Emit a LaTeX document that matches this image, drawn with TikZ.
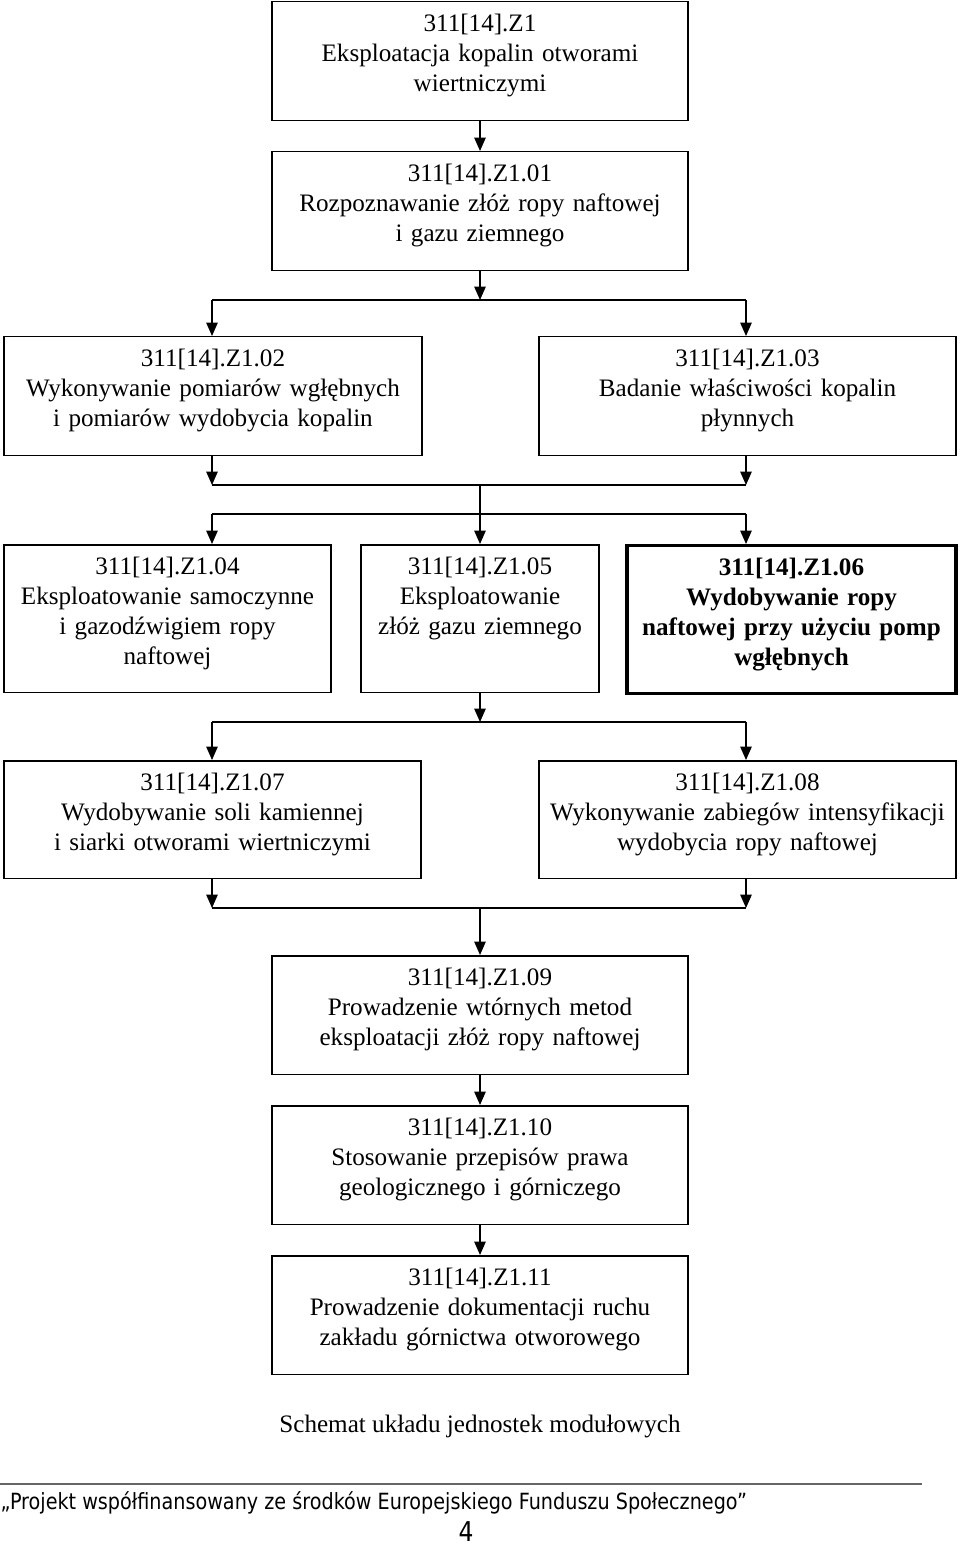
\documentclass[tikz,border=0pt]{standalone}
\usepackage{fontspec}
\setmainfont{Liberation Serif}
\newfontfamily\footfont[FakeStretch=0.86]{DejaVu Sans}
\usepackage{tikz}
\usetikzlibrary{arrows.meta}

\begin{document}
\begin{tikzpicture}[x=0.02cm, y=-0.02cm,
	>={Triangle[length=0.27cm, width=0.23cm]},
	line width=0.85pt,
	modbox/.style={draw, line width=0.85pt, inner sep=0pt, align=center, anchor=north,
		text height=0.6cm, font=\fontsize{14.3}{17}\selectfont},
	thickbox/.style={modbox, line width=1.8pt, font=\fontsize{14.3}{17}\selectfont\bfseries}]
	\useasboundingbox (0,0) rectangle (960,1545);

	% Module boxes
	\node[modbox, text width=8.32cm, text depth=1.78cm] (z1) at (480,1)
		{311[14].Z1\\Eksploatacja kopalin otworami\\wiertniczymi};
	\node[modbox, text width=8.32cm, text depth=1.78cm] (z101) at (480,151)
		{311[14].Z1.01\\Rozpoznawanie złóż ropy naftowej\\i gazu ziemnego};
	\node[modbox, text width=8.36cm, text depth=1.78cm] (z102) at (213,336)
		{311[14].Z1.02\\Wykonywanie pomiarów wgłębnych\\i pomiarów wydobycia kopalin};
	\node[modbox, text width=8.34cm, text depth=1.78cm] (z103) at (747.5,336)
		{311[14].Z1.03\\Badanie właściwości kopalin\\płynnych};
	\node[modbox, text width=6.54cm, text depth=2.36cm] (z104) at (167.5,544)
		{311[14].Z1.04\\Eksploatowanie samoczynne\\i gazodźwigiem ropy\\naftowej};
	\node[modbox, text width=4.76cm, text depth=2.36cm] (z105) at (480,544)
		{311[14].Z1.05\\Eksploatowanie\\złóż gazu ziemnego};
	\node[thickbox, text width=6.58cm, text depth=2.36cm] (z106) at (791.5,544)
		{311[14].Z1.06\\Wydobywanie ropy\\naftowej przy użyciu pomp\\wgłębnych};
	\node[modbox, text width=8.34cm, text depth=1.76cm] (z107) at (212.5,760)
		{311[14].Z1.07\\Wydobywanie soli kamiennej\\i siarki otworami wiertniczymi};
	\node[modbox, text width=8.34cm, text depth=1.76cm] (z108) at (747.5,760)
		{311[14].Z1.08\\Wykonywanie zabiegów intensyfikacji\\wydobycia ropy naftowej};
	\node[modbox, text width=8.32cm, text depth=1.78cm] (z109) at (480,955)
		{311[14].Z1.09\\Prowadzenie wtórnych metod\\eksploatacji złóż ropy naftowej};
	\node[modbox, text width=8.32cm, text depth=1.78cm] (z110) at (480,1105)
		{311[14].Z1.10\\Stosowanie przepisów prawa\\geologicznego i górniczego};
	\node[modbox, text width=8.32cm, text depth=1.78cm] (z111) at (480,1255)
		{311[14].Z1.11\\Prowadzenie dokumentacji ruchu\\zakładu górnictwa otworowego};

	% Junction points
	\coordinate (j1l) at (212,300);
	\coordinate (j1m) at (480,300);
	\coordinate (j1r) at (746,300);
	\coordinate (j2l) at (212,485);
	\coordinate (j2m) at (480,485);
	\coordinate (j2r) at (746,485);
	\coordinate (j3l) at (212,514);
	\coordinate (j3r) at (746,514);
	\coordinate (j4l) at (212,722);
	\coordinate (j4m) at (480,722);
	\coordinate (j4r) at (746,722);
	\coordinate (j5l) at (212,908);
	\coordinate (j5m) at (480,908);
	\coordinate (j5r) at (746,908);

	% Connectors
	\draw[->] (z1) -- (z101);
	\draw[->] (z101) -- (j1m);
	\draw (j1l) -- (j1r);
	\draw[->] (j1l) -- (j1l |- z102.north);
	\draw[->] (j1r) -- (j1r |- z103.north);

	\draw[->] (z102.south -| j2l) -- (j2l);
	\draw[->] (z103.south -| j2r) -- (j2r);
	\draw (j2l) -- (j2r);
	\draw[->] (j2m) -- (z105);
	\draw (j3l) -- (j3r);
	\draw[->] (j3l) -- (j3l |- z104.north);
	\draw[->] (j3r) -- (j3r |- z106.north);

	\draw[->] (z105) -- (j4m);
	\draw (j4l) -- (j4r);
	\draw[->] (j4l) -- (j4l |- z107.north);
	\draw[->] (j4r) -- (j4r |- z108.north);

	\draw[->] (z107.south -| j5l) -- (j5l);
	\draw[->] (z108.south -| j5r) -- (j5r);
	\draw (j5l) -- (j5r);
	\draw[->] (j5m) -- (z109);
	\draw[->] (z109) -- (z110);
	\draw[->] (z110) -- (z111);

	% Caption
	\node[font=\fontsize{14.3}{17}\selectfont] (caption) at (480,1426) {Schemat układu jednostek modułowych};

	% Footer
	\coordinate (rulel) at (0,1484);
	\coordinate (ruler) at (922,1484);
	\draw[gray!80!black, line width=1.2pt] (rulel) -- (ruler);
	\node[anchor=west, inner sep=0pt, font=\footfont\fontsize{12.7}{14}\selectfont] (footer) at (0,1503)
		{„Projekt współfinansowany ze środków Europejskiego Funduszu Społecznego”};
	\node[anchor=base, inner sep=0pt, font=\footfont\fontsize{15.5}{17}\selectfont] (pagenum) at (466,1541) {4};
\end{tikzpicture}
\end{document}
